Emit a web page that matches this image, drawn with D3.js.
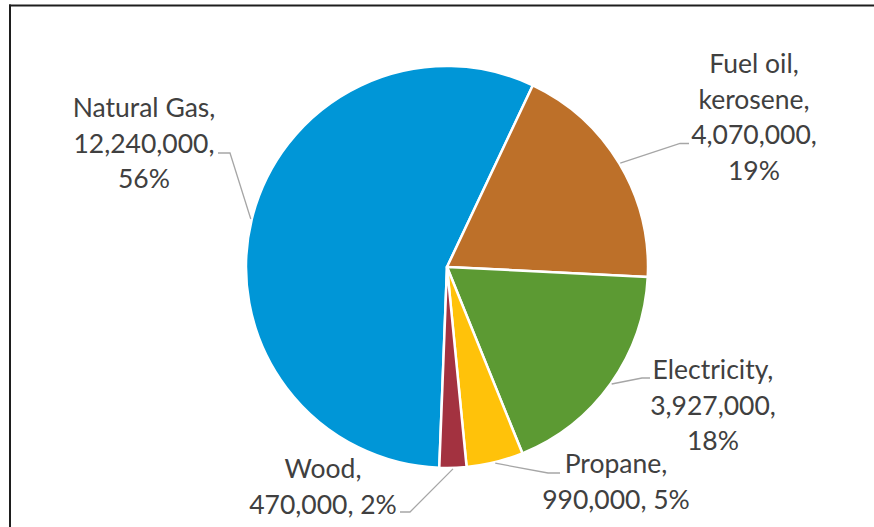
<!DOCTYPE html>
<html>
<head>
<meta charset="utf-8">
<script src="https://cdn.jsdelivr.net/npm/d3@7/dist/d3.min.js"></script>
<style>
  html, body { margin: 0; padding: 0; background: #fff; }
  svg { display: block; }
  .lbl { font-family: Lato, "Open Sans", sans-serif; font-size: 26.5px; fill: #404040; }
</style>
</head>
<body>
<svg id="chart" width="874" height="527"></svg>
<script>
// Home heating fuel, number of households
const categories = ["Natural Gas", "Fuel oil, kerosene", "Electricity", "Propane", "Wood"];
const households = [12240000, 4070000, 3927000, 990000, 470000];
const colors = ["#0096d7", "#bd7029", "#5c9a33", "#ffc20a", "#a33240"];

const W = 874, H = 527;
const cx = 447, cy = 267, R = 201;
const firstSliceDeg = 182.2;   // where the first slice begins, clockwise from 12 o'clock

// label placement: centre x, first baseline, leader elbow and leader end
const labelLayout = [
  { x: 144, y: 117, elbow: [230, 153], end: [218, 153] },
  { x: 754, y: 73,  elbow: [680, 143.5], end: [689, 143.5] },
  { x: 713, y: 379, elbow: [642, 378], end: [650, 378] },
  { x: 616, y: 473, elbow: [548, 473], end: [560, 473] },
  { x: 323, y: 478, elbow: [410, 512], end: [400, 512] }
];
const lineGap = 35.5;
const wrapWidth = 160;

const svg = d3.select("#chart");

// frame edges
svg.append("line").attr("x1", 9).attr("y1", 5.5).attr("x2", W).attr("y2", 5.5)
  .attr("stroke", "#1e1e1e").attr("stroke-width", 2);
svg.append("line").attr("x1", 10).attr("y1", 4.5).attr("x2", 10).attr("y2", H)
  .attr("stroke", "#1e1e1e").attr("stroke-width", 2);

const data = categories.map((c, i) => ({ name: c, value: households[i], color: colors[i], layout: labelLayout[i] }));
const total = d3.sum(households);

const start = firstSliceDeg * Math.PI / 180;
const pie = d3.pie().sort(null).value(d => d.value)
  .startAngle(start).endAngle(start + 2 * Math.PI);
const arcs = pie(data);

const arc = d3.arc().innerRadius(0).outerRadius(R);

const g = svg.append("g").attr("transform", `translate(${cx},${cy})`);
g.selectAll("path.slice").data(arcs).join("path")
  .attr("class", "slice")
  .attr("d", arc)
  .attr("fill", d => d.data.color)
  .attr("stroke", "#fff")
  .attr("stroke-width", 2.5)
  .attr("stroke-linejoin", "round");

// leader lines from the rim at each slice's middle angle
const rim = d3.arc().innerRadius(R + 1).outerRadius(R + 1);
svg.selectAll("polyline.leader").data(arcs).join("polyline")
  .attr("class", "leader")
  .attr("fill", "none")
  .attr("stroke", "#a6a6a6")
  .attr("stroke-width", 1.3)
  .attr("points", d => {
    const c = rim.centroid(d);
    const L = d.data.layout;
    return [[cx + c[0], cy + c[1]], L.elbow, L.end].map(p => p.join(",")).join(" ");
  });

// data labels: category, value, share — wrapped like the spreadsheet labels
const fmt = d3.format(",");
const pct = v => Math.round(v / total * 100) + "%";

const measure = svg.append("text").attr("class", "lbl").attr("x", -1000).attr("y", -1000);
function textWidth(s) { measure.text(s); return measure.node().getComputedTextLength(); }

function wrapLines(str) {
  const words = str.split(" ");
  const lines = [];
  let cur = "";
  for (const w of words) {
    const trial = cur ? cur + " " + w : w;
    if (cur && textWidth(trial) > wrapWidth) { lines.push(cur); cur = w; }
    else cur = trial;
  }
  if (cur) lines.push(cur);
  return lines;
}

data.forEach(d => {
  const full = `${d.name}, ${fmt(d.value)}, ${pct(d.value)}`;
  const lines = wrapLines(full);
  const t = svg.append("text").attr("class", "lbl").attr("text-anchor", "middle");
  lines.forEach((ln, i) => {
    t.append("tspan").attr("x", d.layout.x).attr("y", d.layout.y + i * lineGap).text(ln);
  });
});
measure.remove();
</script>
</body>
</html>
